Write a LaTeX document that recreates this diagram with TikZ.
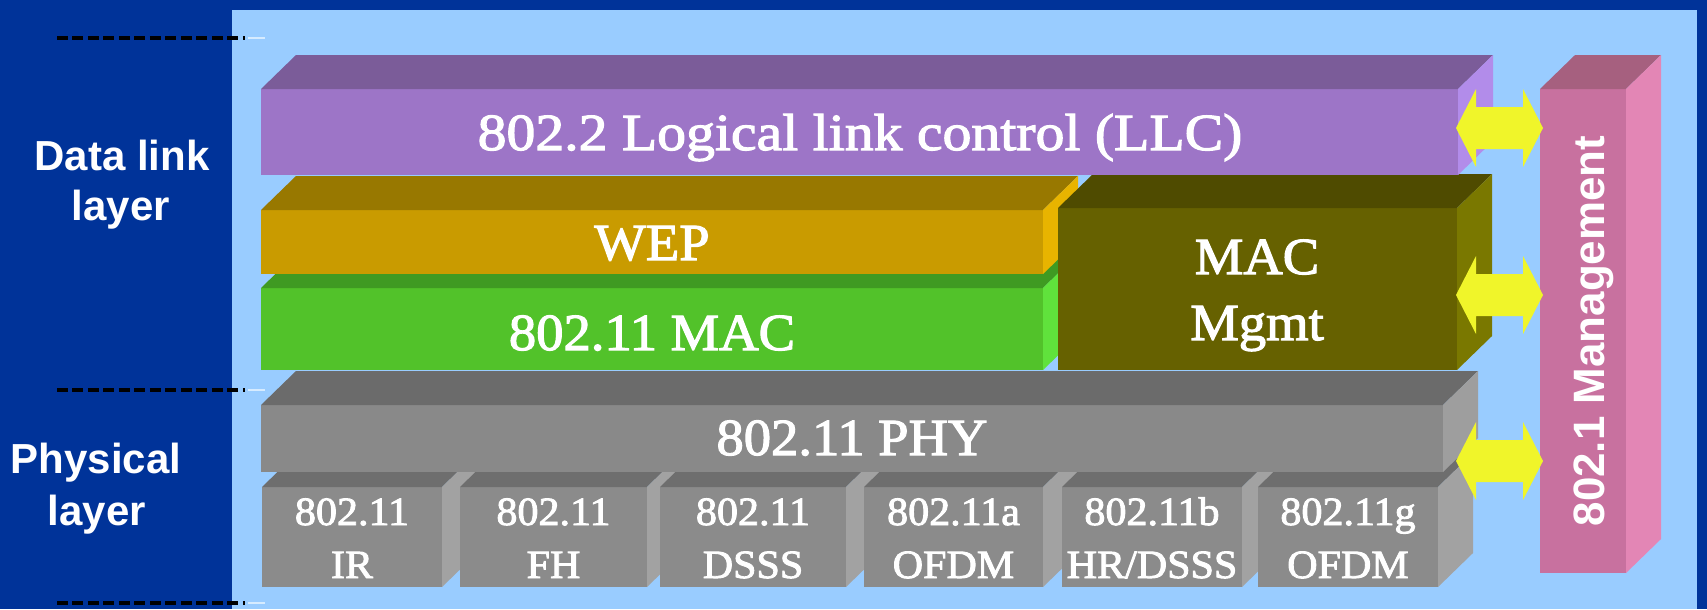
\documentclass[tikz,border=0pt]{standalone}
\usepackage{fontspec}
\setmainfont{Liberation Serif}
\newfontfamily\boxfont[FakeStretch=1.05,FakeBold=2.2]{Liberation Serif}
\newfontfamily\llcfont[FakeStretch=1.11,FakeBold=2.2]{Liberation Serif}
\newfontfamily\sidefont{Liberation Sans}
\definecolor{darkbg}{HTML}{003399}
\definecolor{panel}{HTML}{99CCFF}
\definecolor{paneldash}{HTML}{D6EBFF}
\definecolor{llcF}{HTML}{9D75C7}
\definecolor{llcT}{HTML}{7B5C99}
\definecolor{llcS}{HTML}{B28CEA}
\definecolor{wepF}{HTML}{C99B00}
\definecolor{wepT}{HTML}{987800}
\definecolor{wepS}{HTML}{E8B400}
\definecolor{grnF}{HTML}{52C22A}
\definecolor{grnT}{HTML}{3F9A22}
\definecolor{grnS}{HTML}{60E23C}
\definecolor{mgtF}{HTML}{666100}
\definecolor{mgtT}{HTML}{4F4B00}
\definecolor{mgtS}{HTML}{7A7800}
\definecolor{phyF}{HTML}{898989}
\definecolor{phyT}{HTML}{6B6B6B}
\definecolor{phyS}{HTML}{9E9E9E}
\definecolor{subF}{HTML}{8B8B8B}
\definecolor{subT}{HTML}{6E6E6E}
\definecolor{subS}{HTML}{A2A2A2}
\definecolor{manF}{HTML}{C8719F}
\definecolor{manT}{HTML}{A6607F}
\definecolor{manS}{HTML}{E386B5}
\definecolor{ylw}{HTML}{F0F52A}
\newcommand\blockthree[7]{%
  \fill[#5] (#1,#2) rectangle (#3,#4);
  \fill[#6] (#1,#2) -- (#1+35,#2-34) -- (#3+35,#2-34) -- (#3,#2) -- cycle;
  \fill[#7] (#3,#2) -- (#3+35,#2-34) -- (#3+35,#4-34) -- (#3,#4) -- cycle;
}
\newcommand\yarrow[1]{%
  \fill[ylw] (1456,#1) -- (1476,#1-39) -- (1476,#1-21) -- (1523,#1-21) -- (1523,#1-39)
    -- (1543,#1) -- (1523,#1+39) -- (1523,#1+21) -- (1476,#1+21) -- (1476,#1+39) -- cycle;
}
\newcommand\subbox[5]{% name, left x, width, line1, line2
  \blockthree{#2}{487}{#2+#3}{587}{subF}{subT}{subS}
  \node[sublbl] (#1a) at (#2+#3/2,525) {#4};
  \node[sublbl] (#1b) at (#2+#3/2,578) {#5};
}
\tikzset{
  sidelbl/.style={anchor=base, inner sep=0pt, text=white,
    font=\sidefont\bfseries\fontsize{23.9}{28}\selectfont},
  boxlbl/.style={anchor=base, inner sep=0pt, text=white,
    font=\boxfont\fontsize{29.6}{36}\selectfont},
  sublbl/.style={anchor=base, inner sep=0pt, text=white,
    font=\boxfont\fontsize{22.8}{28}\selectfont},
  dashline/.style={draw=black, line width=0.08cm, dash pattern=on 0.22cm off 0.09cm},
  taildash/.style={draw=paneldash, line width=0.05cm},
}
\begin{document}
\begin{tikzpicture}[x=0.02cm, y=-0.02cm]
\useasboundingbox (0,0) rectangle (1707,609);
\fill[darkbg] (0,0) rectangle (1707,609);
\fill[panel] (232,10) rectangle (1697,609);
% dashed separators
\coordinate (d1a) at (57,38);  \coordinate (d1b) at (245,38);  \coordinate (d1c) at (265,38);
\coordinate (d2a) at (57,390); \coordinate (d2b) at (245,390); \coordinate (d2c) at (265,390);
\coordinate (d3a) at (57,603); \coordinate (d3b) at (245,603); \coordinate (d3c) at (265,603);
\draw[dashline] (d1a) -- (d1b);
\draw[dashline] (d2a) -- (d2b);
\draw[dashline] (d3a) -- (d3b);
\draw[taildash] (d1b) ++(3,0) -- (d1c);
\draw[taildash] (d2b) ++(3,0) -- (d2c);
\draw[taildash] (d3b) ++(3,0) -- (d3c);
% side labels
\node[sidelbl] (dl1) at (122,170) {Data link};
\node[sidelbl] (dl2) at (121,220) {layer};
\node[sidelbl] (pl1) at (96,473) {Physical};
\node[sidelbl] (pl2) at (97,525) {layer};
% PHY variants
\subbox{ir}{262}{180}{802.11}{IR}
\subbox{fh}{460}{187}{802.11}{FH}
\subbox{ds}{660}{186}{802.11}{DSSS}
\subbox{ofa}{864}{179}{802.11a}{OFDM}
\subbox{hr}{1062}{180}{802.11b}{HR/DSSS}
\subbox{ofg}{1258}{180}{802.11g}{OFDM}
% PHY
\blockthree{261}{405}{1443}{472}{phyF}{phyT}{phyS}
\node[boxlbl] (phy) at (852,455) {802.11 PHY};
% 802.11 MAC
\blockthree{261}{288}{1043}{370}{grnF}{grnT}{grnS}
\node[boxlbl] (mac) at (652,350) {802.11 MAC};
% WEP
\blockthree{261}{210}{1043}{274}{wepF}{wepT}{wepS}
\node[boxlbl] (wep) at (652,260) {WEP};
% MAC Mgmt
\blockthree{1058}{208}{1457}{370}{mgtF}{mgtT}{mgtS}
\node[boxlbl] (mm1) at (1257,274) {MAC};
\node[boxlbl] (mm2) at (1257,340) {Mgmt};
% LLC
\blockthree{261}{89}{1458}{175}{llcF}{llcT}{llcS}
\node[boxlbl, font=\llcfont\fontsize{29.6}{36}\selectfont] (llc) at (860,150) {802.2 Logical link control (LLC)};
% 802.1 Management
\blockthree{1540}{89}{1626}{573}{manF}{manT}{manS}
\node[anchor=base, inner sep=0pt, text=white, rotate=90,
  font=\sidefont\bfseries\fontsize{25}{30}\selectfont] (man) at (1604,331) {802.1 Management};
% yellow double arrows
\yarrow{128}
\yarrow{295}
\yarrow{461}
\end{tikzpicture}
\end{document}
